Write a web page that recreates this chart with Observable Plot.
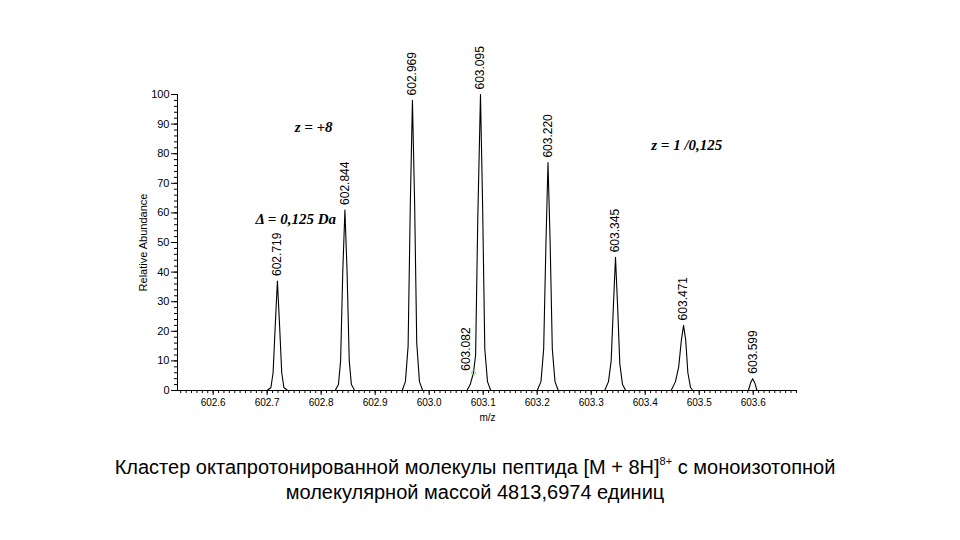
<!DOCTYPE html>
<html><head><meta charset="utf-8">
<script src="https://cdn.jsdelivr.net/npm/d3@7"></script>
<script src="https://cdn.jsdelivr.net/npm/@observablehq/plot@0.6"></script>
<style>
body{margin:0;background:#fff;font-family:"Liberation Sans",Arial,sans-serif;}
#chart svg{overflow:visible;display:block;}
#caption{width:950px;text-align:center;font-size:20px;line-height:25px;color:#000;margin-top:15px;}
#caption sup{font-size:11px;line-height:0;position:relative;top:-1px;vertical-align:super;}
</style></head><body>
<div id="chart"></div>
<div id="caption">Кластер октапротонированной молекулы пептида [M + 8H]<sup>8+</sup> с моноизотопной<br>молекулярной массой 4813,6974 единиц</div>
<script>
// Peak profiles: [m/z, relative abundance]
const peak1 = [[602.700,0],[602.707,1],[602.711,6],[602.715,22],[602.719,37],[602.723,22],[602.727,6],[602.731,1],[602.738,0]];
const peak2 = [[602.826,0],[602.832,2],[602.836,10],[602.840,40],[602.844,61],[602.848,40],[602.852,10],[602.856,2],[602.862,0]];
const peak3 = [[602.950,0],[602.956,3],[602.961,15],[602.965,62],[602.969,98],[602.973,64],[602.977,16],[602.982,3],[602.988,0]];
const peak4 = [[603.070,0],[603.076,2],[603.082,6],[603.086,12],[603.090,58],[603.095,100],[603.099,62],[603.103,14],[603.108,3],[603.114,0]];
const peak5 = [[603.200,0],[603.207,3],[603.212,14],[603.216,48],[603.220,77],[603.224,50],[603.228,14],[603.233,3],[603.239,0]];
const peak6 = [[603.325,0],[603.332,3],[603.337,10],[603.341,28],[603.345,45],[603.349,28],[603.353,9],[603.358,2],[603.364,0]];
const peak7 = [[603.448,0],[603.456,3],[603.462,8],[603.467,17],[603.471,22],[603.475,17],[603.479,6],[603.484,1],[603.488,0]];
const peak8 = [[603.591,0],[603.595,2.5],[603.599,4],[603.603,2.5],[603.607,0]];

// Peak labels (main peaks)
const labelMz   = [602.719, 602.844, 602.969, 603.095, 603.220, 603.345, 603.471, 603.599];
const labelAb   = [37, 61, 98, 100, 77, 45, 22, 4];
const labelText = ["602.719","602.844","602.969","603.095","603.220","603.345","603.471","603.599"];
// Shoulder label
const shoulderMz = [603.082];
const shoulderAb = [6];
const shoulderText = ["603.082"];

// Annotations
const noteText = ["z = +8", "Δ = 0,125 Da", "z = 1 /0,125"];
const noteMz   = [602.786, 602.753, 603.477];
const noteAb   = [89, 58, 83];

// Axes
const xDomain = [602.534, 603.682];
const yDomain = [0, 100];
const xTickValues = [602.6, 602.7, 602.8, 602.9, 603.0, 603.1, 603.2, 603.3, 603.4, 603.5, 603.6];
const yTickValues = [0, 10, 20, 30, 40, 50, 60, 70, 80, 90, 100];

const peaks = [peak1, peak2, peak3, peak4, peak5, peak6, peak7, peak8];
const profile = peaks.flatMap((p, k) => p.map(([mz, ab]) => ({peak: k, mz, ab})));
const labels = labelMz.map((mz, i) => ({mz, ab: labelAb[i], text: labelText[i]}));
const shoulder = shoulderMz.map((mz, i) => ({mz, ab: shoulderAb[i], text: shoulderText[i]}));
const notes = noteText.map((t, i) => ({text: t, mz: noteMz[i], ab: noteAb[i]}));

const minorX = d3.range(Math.ceil(xDomain[0]*100), Math.floor(xDomain[1]*100)+1).map(v => v/100);
const minorY = d3.range(0, 101, 2);
const sans = "'Liberation Sans',Arial,sans-serif";

const chart = Plot.plot({
  width: 960, height: 440,
  marginLeft: 177, marginRight: 163, marginTop: 94, marginBottom: 50,
  x: {domain: xDomain},
  y: {domain: yDomain},
  style: {fontFamily: sans, fontSize: "10px", color: "#000", background: "#fff"},
  marks: [
    Plot.axisX({ticks: minorX, tickSize: 3, text: null, label: null}),
    Plot.axisX({ticks: xTickValues, tickSize: 5, tickPadding: 3, tickFormat: d => d.toFixed(1),
      fontSize: 10, label: "m/z", labelAnchor: "center", labelArrow: "none", labelOffset: 30}),
    Plot.axisY({ticks: minorY, tickSize: 3, text: null, label: null}),
    Plot.axisY({ticks: yTickValues, tickSize: 6, tickPadding: 2, fontSize: 11,
      label: "Relative Abundance", labelAnchor: "center", labelArrow: "none", labelOffset: 38}),
    Plot.ruleY([yDomain[0]], {stroke: "#000"}),
    Plot.ruleX([xDomain[0]], {stroke: "#000"}),
    Plot.line(profile, {x: "mz", y: "ab", z: "peak", stroke: "#000", strokeWidth: 1.1, curve: "linear"}),
    Plot.dot(shoulder, {x: "mz", y: "ab", r: 2, stroke: "#8c8", strokeWidth: 1}),
    Plot.text(labels, {x: "mz", y: "ab", text: "text", rotate: -90, textAnchor: "start", dy: -5,
      fontSize: 12, fill: "#000"}),
    Plot.text(shoulder, {x: "mz", y: "ab", text: "text", rotate: -90, textAnchor: "start", dy: -2, dx: -7,
      fontSize: 12, fill: "#000"}),
    Plot.text(notes, {x: "mz", y: "ab", text: "text", fontFamily: "'Liberation Serif','Times New Roman',serif",
      fontStyle: "italic", fontWeight: "bold", fontSize: 15, fill: "#000"})
  ]
});
document.getElementById("chart").appendChild(chart);
</script>
</body></html>
